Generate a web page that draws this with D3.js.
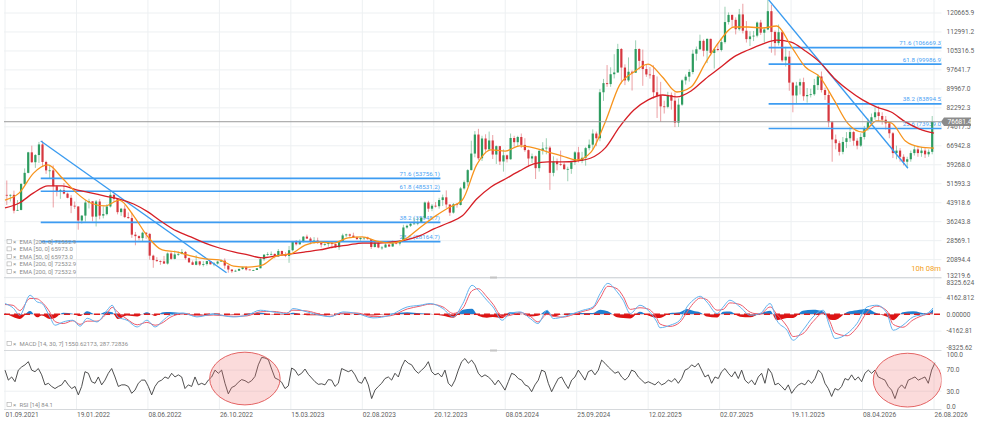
<!DOCTYPE html>
<html>
<head>
<meta charset="utf-8">
<script src="https://cdn.jsdelivr.net/npm/d3@7"></script>
<style>
  html, body { margin: 0; padding: 0; background: #fff; }
  svg { display: block; font-family: Roboto, "DejaVu Sans", sans-serif; }
</style>
</head>
<body>
<svg id="chart" width="983" height="426"></svg>
<script>
// weekly candles starting 01.09.2021, open = previous close
var firstDay = "2021-09-01";
var candleStepDays = 7;
var firstOpen = 47100;

var closes = [
  46800, 47100, 40700, 41000, 51500, 56000, 64300, 60300, 63200, 67500,
  60400, 57000, 57000, 50600, 48400, 49000, 47600, 45900, 42700, 42400,
  36700, 38700, 44000, 44500, 38300, 44400, 38700, 39300, 42400, 47100,
  45500, 40100, 41500, 38100, 37700, 31000, 30400, 29600, 31800, 31300,
  22500, 20700, 20300, 20200, 19300, 23400, 21200, 23000, 23200, 24000,
  21500, 19800, 18800, 20200, 18900, 19100, 20300, 19000, 19300, 20100,
  20500, 18500, 16900, 16200, 16400, 17100, 17800, 16900, 16700, 16700,
  17400, 21100, 22900, 23100, 23200, 22200, 24400, 23100, 22400, 24700,
  28200, 27100, 28200, 30200, 29400, 28300, 28600, 27600, 27000, 27200,
  27700, 27200, 25900, 28300, 30700, 31100, 30600, 29900, 29200, 29700,
  29800, 29200, 26000, 27700, 25800, 25800, 27000, 26200, 27500, 27400,
  28500, 33900, 34600, 35400, 35500, 35800, 37800, 44000, 41500, 42700,
  42500, 45000, 46100, 43200, 39900, 43300, 43000, 49700, 52200, 57100,
  63800, 71500, 61900, 69900, 65500, 69100, 63400, 66800, 60600, 63100,
  61500, 70100, 68400, 70500, 67300, 65200, 61800, 62700, 57900, 64900,
  65900, 66200, 56000, 60600, 59500, 59400, 57500, 57600, 60300, 64300,
  60800, 62100, 66000, 67400, 71900, 70000, 88600, 92300, 91900, 95900,
  96600, 106100, 98600, 93400, 96900, 96500, 106100, 101300, 98000, 95800,
  95600, 88600, 87200, 82900, 82700, 87500, 85200, 76300, 83600, 93400,
  94900, 96800, 104200, 106000, 109400, 105400, 110200, 104500, 106100, 105700,
  108900, 117000, 119900, 117900, 114100, 120100, 113500, 110100, 111200, 111500,
  116800, 112700, 114000, 121400, 113000, 108500, 112900, 101500, 103000, 92500,
  87300, 91300, 92700, 87000, 87500, 87800, 91500, 95000, 89500, 87500,
  76500, 69500, 68000, 64500, 68500, 70000, 72500, 69000, 67000, 70500,
  74000, 76500, 78500, 80500, 79000, 77500, 76000, 72000, 64000, 65000,
  62500, 60500, 61500, 64000, 65500, 64000, 65000, 63500, 64500, 76681.4
];

var highs = [
  52900, 47300, 48800, 45000, 51900, 57800, 64500, 67000, 63600, 68500,
  69000, 60900, 59200, 59000, 51000, 49500, 51900, 48000, 47000, 44400,
  42500, 38900, 45000, 45500, 44500, 45000, 45400, 42500, 43300, 48200,
  47600, 45500, 41800, 42900, 40000, 39900, 32100, 30700, 32200, 31900,
  31700, 22900, 21900, 20600, 22400, 23800, 24300, 24600, 24200, 25200,
  24400, 21800, 20500, 22700, 20400, 20300, 20400, 20400, 19900, 20400,
  21000, 21400, 18500, 16900, 16800, 17400, 18000, 18300, 16900, 16800,
  17500, 21600, 23100, 23900, 24200, 23400, 25200, 24500, 23900, 26400,
  28400, 28800, 29100, 30400, 31000, 30000, 30000, 29800, 27900, 27500,
  28400, 27800, 27400, 28400, 31400, 31400, 31400, 31800, 30300, 29900,
  29900, 30200, 29200, 28100, 27900, 26400, 27400, 27200, 28600, 28000,
  28600, 35000, 35100, 35900, 37900, 37900, 38200, 44400, 44700, 43400,
  44200, 45900, 47200, 48900, 43200, 43800, 43800, 50300, 52900, 57500,
  69000, 72900, 73800, 71000, 71600, 72700, 71300, 67100, 66900, 65500,
  63400, 71900, 71000, 71000, 71900, 70000, 65500, 63800, 63000, 65400,
  68400, 70000, 66800, 62700, 61800, 65000, 60200, 58500, 60600, 64800,
  66500, 64500, 66500, 69500, 73600, 72700, 89900, 94000, 99600, 98700,
  104000, 108200, 106500, 99900, 102700, 97400, 109600, 106400, 105900, 100000,
  98800, 99500, 95000, 92800, 85200, 88800, 88500, 88500, 86100, 93800,
  95800, 97900, 105800, 107100, 111900, 110000, 110400, 110300, 106300, 108500,
  110500, 123200, 120900, 120000, 118900, 122300, 124400, 117400, 113300, 113400,
  117200, 117900, 114800, 126200, 124000, 113600, 116000, 113600, 107000, 105300,
  92800, 92800, 94100, 94500, 90300, 90000, 94000, 96000, 97000, 90500,
  89000, 77000, 71500, 69000, 70500, 72500, 74500, 73000, 70000, 72000,
  75000, 78000, 80000, 82500, 83000, 80500, 79000, 76500, 72500, 67000,
  66000, 63500, 62500, 65000, 67000, 66500, 66500, 66000, 65500, 79000
];

var lows = [
  43000, 44400, 39600, 40700, 40800, 51000, 55800, 60000, 58000, 60000,
  58600, 55600, 53500, 42000, 46500, 45500, 47300, 45700, 39700, 41400,
  33000, 35500, 36300, 41600, 36400, 34300, 37200, 37600, 38800, 42000,
  44200, 39200, 38600, 37700, 37400, 29700, 26700, 28700, 28100, 29300,
  20900, 17600, 20000, 18800, 19200, 18900, 20800, 21000, 22400, 23000,
  20900, 19600, 18700, 18600, 18300, 18100, 18500, 18900, 18200, 18900,
  20000, 17200, 15600, 15500, 16000, 16300, 16800, 16400, 16600, 16400,
  16700, 17400, 20400, 22500, 22600, 21400, 22100, 22800, 21900, 19600,
  24200, 26600, 26900, 27800, 29300, 27100, 27300, 27300, 25800, 26400,
  26100, 25400, 25700, 24800, 28300, 29900, 29800, 29700, 28900, 28600,
  28800, 29000, 25200, 25800, 25500, 24900, 25800, 26000, 26100, 27200,
  26600, 28300, 33400, 34100, 35300, 34800, 35800, 37500, 40200, 40500,
  42000, 41500, 42600, 41800, 38600, 39500, 41900, 42800, 49200, 50600,
  57000, 62300, 61200, 60800, 64500, 65100, 61600, 59600, 59200, 56500,
  60200, 61300, 66600, 66700, 66100, 64500, 58500, 60000, 53500, 56500,
  63400, 63500, 49100, 54600, 57000, 58800, 57200, 52600, 55600, 59200,
  60200, 59900, 58900, 65100, 65500, 66800, 68800, 85100, 90800, 90800,
  94200, 96500, 92200, 91500, 92800, 89300, 96500, 97800, 91200, 94800,
  94100, 86000, 78200, 76600, 80000, 82100, 81600, 74500, 74600, 83100,
  91700, 92900, 95900, 101400, 105800, 103100, 100400, 103400, 98200, 105200,
  105100, 108300, 116000, 114700, 112000, 113500, 112400, 108700, 107300, 109300,
  110800, 111800, 108700, 113700, 104600, 103500, 107500, 100800, 99000, 89200,
  80500, 83800, 87700, 85200, 84400, 86500, 87200, 89500, 88500, 85500,
  74500, 60500, 65500, 63000, 63500, 66000, 68500, 67000, 65500, 66500,
  69500, 73000, 75000, 77500, 77000, 75500, 73500, 70000, 62000, 61500,
  60500, 59000, 58000, 60500, 63000, 62500, 62500, 62000, 62500, 63500
];

// moving averages read every 28 days
var emaStepDays = 28;
var ema50 = [
  45000, 47900, 55900, 59200, 53900, 47900, 43800, 42600, 45000, 38600,
  30100, 24800, 24000, 22400, 21200, 20800, 18300, 17900, 18700, 22400,
  23200, 26800, 28000, 27600, 29700, 30100, 28400, 27600, 29200, 33700,
  38100, 41800, 45000, 59200, 65300, 64800, 66900, 66100, 64400, 62800,
  61200, 64400, 76600, 91500, 96800, 100000, 94800, 88700, 90700, 100400,
  109300, 115000, 115000, 114600, 115400, 107300, 98800, 94800, 85500, 75800,
  72500, 77000, 76200, 68900, 66500, 66000
];
var ema200 = [
  41800, 43800, 47900, 50700, 50700, 49100, 47900, 46600, 45400, 43400,
  40200, 36100, 32500, 30100, 27600, 25600, 24000, 22800, 21600, 22400,
  23200, 24000, 24800, 26000, 26800, 27600, 27600, 28000, 28800, 30500,
  33300, 35700, 38600, 45400, 50300, 53500, 56800, 59600, 60400, 60400,
  60800, 62000, 66100, 74600, 81400, 85500, 87500, 86700, 89100, 94000,
  98400, 102900, 105700, 108100, 109700, 108900, 105300, 100800, 94400, 89500,
  85500, 82600, 80600, 76600, 73700, 72100
];

// macd [14, 30, 7], days after 01.09.2021
var macdDays = [
  0, 16, 29, 49, 63, 72, 88, 98, 114, 133, 147, 161, 180, 200, 210, 221, 239, 259, 278, 294,
  310, 323, 349, 376, 408, 447, 474, 500, 525, 552, 564, 592, 617, 637, 662, 690, 721, 754, 788, 813,
  833, 858, 878, 897, 915, 927, 944, 956, 974, 989, 1009, 1029, 1044, 1062, 1074, 1093, 1113, 1132, 1152, 1166,
  1181, 1199, 1211, 1225, 1244, 1260, 1277, 1283, 1303, 1322, 1336, 1348, 1362, 1375, 1395, 1407, 1420, 1440, 1460, 1479,
  1499, 1512, 1532, 1544, 1563, 1583, 1603, 1616, 1626, 1650, 1669, 1689, 1708, 1728, 1740, 1759, 1779, 1806, 1818
];
var macdLine = [
  2640, 1550, -250, 4690, 3030, 2710, -660, -2710, -1900, -1480, -2960, -990, -1900, 990, 2220, -660, -1480, -3130, -1480, -3130,
  -1480, -250, 320, -660, 0, -660, -250, 990, 570, 170, 1400, 570, -250, -620, 570, 170, -900, -250, 1800, 2220,
  2640, 1400, -660, 2640, 7150, 5920, 3450, 1800, -1480, 170, 570, -1060, -2300, 990, -1060, -660, 170, 990, 1800, 5100,
  7620, 5550, 3450, 170, 2220, 990, -1900, -3330, -2710, -1480, 1800, 3450, 4440, 3030, 170, 1800, 3450, 1800, -250, 170,
  2640, -1480, -3950, -6420, -3950, -660, 990, -3130, -5990, -4760, -2300, 1800, 2220, 170, -3950, -2710, -660, 170, 1550
];
var signalLine = [
  2400, 2200, 900, 3900, 3800, 3000, 500, -1800, -2300, -1600, -2500, -1700, -1700, 300, 1700, 500, -1200, -2600, -2000, -2700,
  -2000, -800, 100, -400, -200, -500, -400, 600, 700, 300, 1000, 800, 0, -500, 300, 300, -600, -400, 1300, 2000,
  2500, 1800, 200, 1500, 5800, 6300, 4300, 2500, -500, -300, 400, -500, -1900, 0, -500, -700, -100, 700, 1500, 4000,
  6900, 6300, 4400, 1200, 1600, 1300, -1000, -2400, -3000, -2000, 500, 2600, 4000, 3600, 1000, 1200, 2800, 2400, 500, 0,
  1800, 0, -3000, -5500, -4800, -1800, 300, -1800, -4600, -5300, -3300, 500, 2000, 800, -2500, -3200, -1400, 0, 290
];
var histogram = [
  240, -650, -1150, 790, -770, -290, -1160, -910, 400, 120, -460, 710, -200, 690, 520, -1160, -280, -530, 520, -430,
  520, 550, 220, -260, 200, -160, 150, 390, -130, -130, 400, -230, -250, -120, 270, -130, -300, 150, 500, 220,
  140, -400, -860, 1140, 1350, -380, -850, -700, -980, 470, 170, -560, -400, 990, -560, 40, 270, 290, 300, 1100,
  720, -750, -950, -1030, 620, -310, -900, -930, 290, 520, 1300, 850, 440, -570, -830, 600, 650, -600, -750, 170,
  840, -1480, -950, -920, 850, 1140, 690, -1330, -1390, 540, 1000, 1300, 220, -630, -1450, 490, 740, 170, 1260
];

// rsi [14] read every 6.53 days
var rsiStepDays = 6.53;
var rsi = [
  70, 51, 57, 48, 70, 76, 80, 86, 70, 67, 73, 61, 42, 45, 39, 35, 39, 42, 51, 42,
  35, 39, 23, 39, 67, 64, 48, 45, 57, 42, 51, 64, 73, 57, 39, 42, 42, 39, 26, 32,
  45, 51, 51, 39, 23, 39, 48, 51, 57, 54, 64, 57, 61, 57, 35, 42, 39, 57, 42, 45,
  42, 51, 57, 70, 64, 70, 45, 25, 37, 40, 47, 52, 50, 46, 50, 58, 80, 94, 93, 90,
  72, 55, 52, 47, 35, 40, 74, 70, 60, 64, 72, 62, 55, 48, 43, 44, 42, 52,
  51, 39, 45, 73, 70, 67, 70, 61, 48, 45, 57, 42, 16, 32, 39, 45, 54, 57, 51, 64,
  57, 76, 89, 83, 80, 70, 64, 70, 76, 86, 67, 61, 64, 57, 70, 45, 39, 51, 70, 86,
  92, 83, 89, 80, 64, 57, 61, 57, 51, 42, 51, 42, 32, 48, 64, 61, 54, 51, 42, 39,
  29, 42, 51, 70, 67, 45, 29, 42, 54, 57, 45, 35, 51, 57, 70, 61, 51, 67, 70, 61,
  70, 89, 83, 76, 70, 64, 67, 57, 51, 57, 70, 67, 57, 51, 45, 48, 45, 42, 48,
  42, 45, 51, 48, 54, 45, 54, 70, 73, 80, 76, 83, 70, 57, 61, 45, 57, 54, 67, 73,
  64, 57, 67, 54, 70, 51, 45, 51, 42, 57, 64, 45, 73, 64, 42, 45, 39, 32, 42, 26,
  35, 42, 45, 42, 51, 45, 54, 70, 64, 45, 35, 20, 35, 32, 39, 54, 51, 61, 51, 57,
  48, 64, 70, 64, 70, 57, 54, 51, 39, 32, 16, 35, 42, 35, 51, 54, 57, 51, 54, 57,
  45, 70, 84
];

// drawings
var leftTrend = [["2021-11-10", 68897.2], ["2022-11-09", 15582.6]];
var rightTrend = [["2025-10-06", 126034.7], ["2026-07-06", 57846.7]];
var fibLevels = ["71.6", "61.8", "38.2", "23.6"];
var leftFibPrices = [53756.1, 48531.2, 35948.7, 28164.7];
var rightFibPrices = [106669.3, 99986.9, 83894.5, 73939.0];
var leftFibSpan = ["2021-11-10", "2024-01-02"];
var rightFibSpan = ["2025-10-06", "2026-09-14"];
var rsiCircles = [["2022-12-15", 54, 69, 50], ["2026-07-05", 51, 67, 51]];

var lastPrice = 76681.4;
var priceTicks = ["120665.9", "112991.2", "105316.5", "97641.7", "89967.0", "82292.3", "74617.5",
  "66942.8", "59268.0", "51593.3", "43918.6", "36243.8", "28569.1", "20894.4", "13219.6"];
var macdTicks = ["8325.624", "4162.812", "0.00000", "-4162.81", "-8325.62"];
var rsiTicks = ["100.0", "70.0", "30.0", "0.0"];
var dateTicks = ["01.09.2021", "19.01.2022", "08.06.2022", "26.10.2022", "15.03.2023", "02.08.2023",
  "20.12.2023", "08.05.2024", "25.09.2024", "12.02.2025", "02.07.2025", "19.11.2025", "08.04.2026", "26.08.2026"];
var emaLegend = ["EMA [200, 0] 72532.9", "EMA [50, 0] 65973.0", "EMA [50, 0] 65973.0",
  "EMA [200, 0] 72532.9", "EMA [200, 0] 72532.9"];

var parseDay = d3.utcParse("%Y-%m-%d");
var parseTick = d3.utcParse("%d.%m.%Y");
var day0 = parseDay(firstDay);
function addDays(n) { return new Date(day0.getTime() + n * 864e5); }

var svg = d3.select("#chart");
var plotRight = 941.5;

var x = d3.scaleUtc().domain([day0, parseTick("26.08.2026")]).range([5, 934]);
var yPrice = d3.scaleLinear().domain([13219.6, 120665.9]).range([278.6, 13]);
var yMacd = d3.scaleLinear().domain([-8325.62, 8325.624]).range([348, 280.5]);
var yRsi = d3.scaleLinear().domain([0, 100]).range([407, 354.3]);

var defs = svg.append("defs");
function clip(id, y0, y1) {
  defs.append("clipPath").attr("id", id)
    .append("rect").attr("x", 0).attr("y", y0).attr("width", plotRight).attr("height", y1 - y0);
}
clip("clipMain", 0, 277);
clip("clipMacd", 278, 350);
clip("clipRsi", 351, 409);
clip("clipPos", 278, yMacd(0));
clip("clipNeg", yMacd(0), 350);

var grid = "#edf0f2";

// vertical grid through all panels
svg.append("g").selectAll("line").data(dateTicks).join("line")
  .attr("x1", function (d) { return x(parseTick(d)); })
  .attr("x2", function (d) { return x(parseTick(d)); })
  .attr("y1", 0).attr("y2", 409)
  .attr("stroke", grid).attr("stroke-width", 1)
;

// horizontal grids
svg.append("g").selectAll("line").data(priceTicks).join("line")
  .attr("x1", 4).attr("x2", plotRight)
  .attr("y1", function (d) { return yPrice(+d); })
  .attr("y2", function (d) { return yPrice(+d); })
  .attr("stroke", grid)
;
svg.append("g").selectAll("line").data([4162.812, -4162.81]).join("line")
  .attr("x1", 4).attr("x2", plotRight)
  .attr("y1", function (d) { return yMacd(d); }).attr("y2", function (d) { return yMacd(d); })
  .attr("stroke", grid)
;
svg.append("g").selectAll("line").data([70, 30]).join("line")
  .attr("x1", 4).attr("x2", plotRight)
  .attr("y1", function (d) { return yRsi(d); }).attr("y2", function (d) { return yRsi(d); })
  .attr("stroke", grid)
;

// panel separators
svg.append("g").selectAll("line").data([277.5, 350.5, 409.5]).join("line")
  .attr("x1", 4).attr("x2", plotRight)
  .attr("y1", function (d) { return d; }).attr("y2", function (d) { return d; })
  .attr("stroke", "#d6d9dc")
;
svg.append("g").selectAll("rect").data([276.5, 349.5]).join("rect")
  .attr("x", 490).attr("y", function (d) { return d; })
  .attr("width", 7).attr("height", 2).attr("fill", "#c4c4c4")
;

var main = svg.append("g").attr("clip-path", "url(#clipMain)");

function fibSet(prices, span, showClose) {
  var xa = x(parseDay(span[0])), xb = x(parseDay(span[1]));
  var g = main.append("g");
  g.selectAll("text").data(prices).join("text")
    .attr("x", xb - 0.5)
    .attr("y", function (d) { return yPrice(d) - 2.6; })
    .attr("text-anchor", "end")
    .attr("font-size", 6.2)
    .attr("fill", "#4aa2f4")
    .text(function (d, i) { return fibLevels[i] + " (" + d.toFixed(1) + ")"; })
  ;
  return function () {
    main.append("g").selectAll("line").data(prices).join("line")
      .attr("x1", xa).attr("x2", xb)
      .attr("y1", function (d) { return yPrice(d); })
      .attr("y2", function (d) { return yPrice(d); })
      .attr("stroke", "#3d9cf2").attr("stroke-width", 1.6)
    ;
  };
}
var leftFibLines = fibSet(leftFibPrices, leftFibSpan);
var rightFibLines = fibSet(rightFibPrices, rightFibSpan);

// candles
var candles = closes.map(function (c, i) {
  return {
    date: addDays(i * candleStepDays + 3.5),
    open: i ? closes[i - 1] : firstOpen,
    high: highs[i], low: lows[i], close: c
  };
});
var up = "#2e9c60", down = "#d6373f";
var cg = main.append("g");
cg.selectAll("line").data(candles).join("line")
  .attr("x1", function (d) { return x(d.date); })
  .attr("x2", function (d) { return x(d.date); })
  .attr("y1", function (d) { return yPrice(Math.max(d.high, d.open, d.close)); })
  .attr("y2", function (d) { return yPrice(Math.min(d.low, d.open, d.close)); })
  .attr("stroke", function (d) { return d.close >= d.open ? up : down; })
  .attr("stroke-opacity", 0.6)
  .attr("stroke-width", 0.8)
;
cg.selectAll("rect").data(candles).join("rect")
  .attr("x", function (d) { return x(d.date) - 1.1; })
  .attr("width", 2.2)
  .attr("y", function (d) { return yPrice(Math.max(d.open, d.close)); })
  .attr("height", function (d) { return Math.max(0.8, Math.abs(yPrice(d.open) - yPrice(d.close))); })
  .attr("fill", function (d) { return d.close >= d.open ? up : down; })
;

leftFibLines();
rightFibLines();

// trend lines
[leftTrend, rightTrend].forEach(function (t) {
  main.append("line")
    .attr("x1", x(parseDay(t[0][0]))).attr("y1", yPrice(t[0][1]))
    .attr("x2", x(parseDay(t[1][0]))).attr("y2", yPrice(t[1][1]))
    .attr("stroke", "#3a9bf0").attr("stroke-width", 1.3)
  ;
});

// ema lines
function emaPath(values, color) {
  var line = d3.line()
    .x(function (d, i) { return x(addDays(i * emaStepDays)); })
    .y(function (d) { return yPrice(d); })
    .curve(d3.curveMonotoneX);
  main.append("path").attr("d", line(values))
    .attr("fill", "none").attr("stroke", color).attr("stroke-width", 1.3);
}
emaPath(ema200, "#d61f26");
emaPath(ema50, "#f7941d");

// last price line
main.append("line")
  .attr("x1", 4).attr("x2", plotRight)
  .attr("y1", yPrice(lastPrice)).attr("y2", yPrice(lastPrice))
  .attr("stroke", "#9a9a9a").attr("stroke-width", 1)
;

// legend rows
var lg = svg.append("g").attr("font-size", 6).attr("fill", "#8c8c8c");
emaLegend.forEach(function (t, i) {
  var yy = 243.6 + i * 7.5;
  lg.append("rect").attr("x", 7).attr("y", yy - 4.2).attr("width", 4.5).attr("height", 4)
    .attr("fill", "none").attr("stroke", "#a8a8a8").attr("stroke-width", 0.6);
  lg.append("text").attr("x", 13).attr("y", yy).text("\u00d7");
  lg.append("text").attr("x", 19.5).attr("y", yy).text(t);
});
function panelLabel(yy, t) {
  lg.append("rect").attr("x", 7).attr("y", yy - 4.2).attr("width", 4.5).attr("height", 4)
    .attr("fill", "none").attr("stroke", "#a8a8a8").attr("stroke-width", 0.6);
  lg.append("text").attr("x", 13).attr("y", yy).text("\u00d7");
  lg.append("text").attr("x", 19.5).attr("y", yy).text(t);
}
panelLabel(345.5, "MACD [14, 30, 7] 1550.62173, 287.72836");
panelLabel(406.5, "RSI [14] 84.1");

// macd panel
var mg = svg.append("g").attr("clip-path", "url(#clipMacd)");
var macdX = function (d, i) { return x(addDays(macdDays[i])); };
var histArea = d3.area().x(macdX).y0(yMacd(0))
  .y1(function (d) { return yMacd(d); }).curve(d3.curveMonotoneX);
mg.append("path").attr("d", histArea(histogram)).attr("fill", "#1f80d0")
  .attr("clip-path", "url(#clipPos)");
mg.append("path").attr("d", histArea(histogram)).attr("fill", "#dd1414")
  .attr("clip-path", "url(#clipNeg)");
mg.append("line").attr("x1", 4).attr("x2", plotRight)
  .attr("y1", yMacd(0)).attr("y2", yMacd(0))
  .attr("stroke", "#e01c1c").attr("stroke-width", 1.4).attr("stroke-dasharray", "6,4");
var macdPath = d3.line().x(macdX).y(function (d) { return yMacd(d); }).curve(d3.curveMonotoneX);
mg.append("path").attr("d", macdPath(signalLine))
  .attr("fill", "none").attr("stroke", "#ec5a6a").attr("stroke-width", 1);
mg.append("path").attr("d", macdPath(macdLine))
  .attr("fill", "none").attr("stroke", "#62b2ee").attr("stroke-width", 1);

// rsi panel
var rg = svg.append("g").attr("clip-path", "url(#clipRsi)");
var rsiPath = d3.line()
  .x(function (d, i) { return x(addDays(i * rsiStepDays)); })
  .y(function (d) { return yRsi(d); });
rg.append("path").attr("d", rsiPath(rsi))
  .attr("fill", "none").attr("stroke", "#3c3c3c").attr("stroke-width", 0.9);
rsiCircles.forEach(function (c) {
  var cd = parseDay(c[0]);
  var cx = x(cd);
  rg.append("ellipse")
    .attr("cx", cx).attr("cy", yRsi(c[1]))
    .attr("rx", x(new Date(cd.getTime() + c[2] * 864e5)) - cx)
    .attr("ry", yRsi(c[1]) - yRsi(c[1] + c[3]))
    .attr("fill", "rgba(238,110,110,0.25)")
    .attr("stroke", "#e36464").attr("stroke-width", 1)
  ;
});

// right axis labels
var ax = svg.append("g").attr("font-size", 6.6).attr("fill", "#5f5f5f");
ax.selectAll("text.p").data(priceTicks).join("text").attr("class", "p")
  .attr("x", 946.5)
  .attr("y", function (d) { return Math.min(yPrice(+d), 275.5); })
  .attr("dy", "0.35em")
  .text(function (d) { return d; })
;
ax.selectAll("text.m").data(macdTicks).join("text").attr("class", "m")
  .attr("x", 946.5)
  .attr("y", function (d) { return Math.max(yMacd(+d), 282.3); })
  .attr("dy", "0.35em")
  .text(function (d) { return d; })
;
ax.selectAll("text.r").data(rsiTicks).join("text").attr("class", "r")
  .attr("x", 946.5)
  .attr("y", function (d) { return yRsi(+d); })
  .attr("dy", "0.35em")
  .text(function (d) { return d; })
;
ax.selectAll("text.d").data(dateTicks).join("text").attr("class", "d")
  .attr("x", function (d) { return x(parseTick(d)) + 0.5; })
  .attr("y", 416.8)
  .text(function (d) { return d; })
;

// last price tag
var ly = yPrice(lastPrice);
svg.append("path")
  .attr("d", "M941," + ly + " L944," + (ly - 4.3) + " L971," + (ly - 4.3) +
    " L971," + (ly + 4.3) + " L944," + (ly + 4.3) + " Z")
  .attr("fill", "#8b8b8b")
;
svg.append("text").attr("x", 947.5).attr("y", ly).attr("dy", "0.36em")
  .attr("font-size", 6.6).attr("fill", "#fff").text(lastPrice.toFixed(1));

svg.append("text").attr("x", 941).attr("y", 271.3).attr("text-anchor", "end")
  .attr("font-size", 7.6).attr("fill", "#f4a11c").text("10h 08m");
</script>
</body>
</html>
